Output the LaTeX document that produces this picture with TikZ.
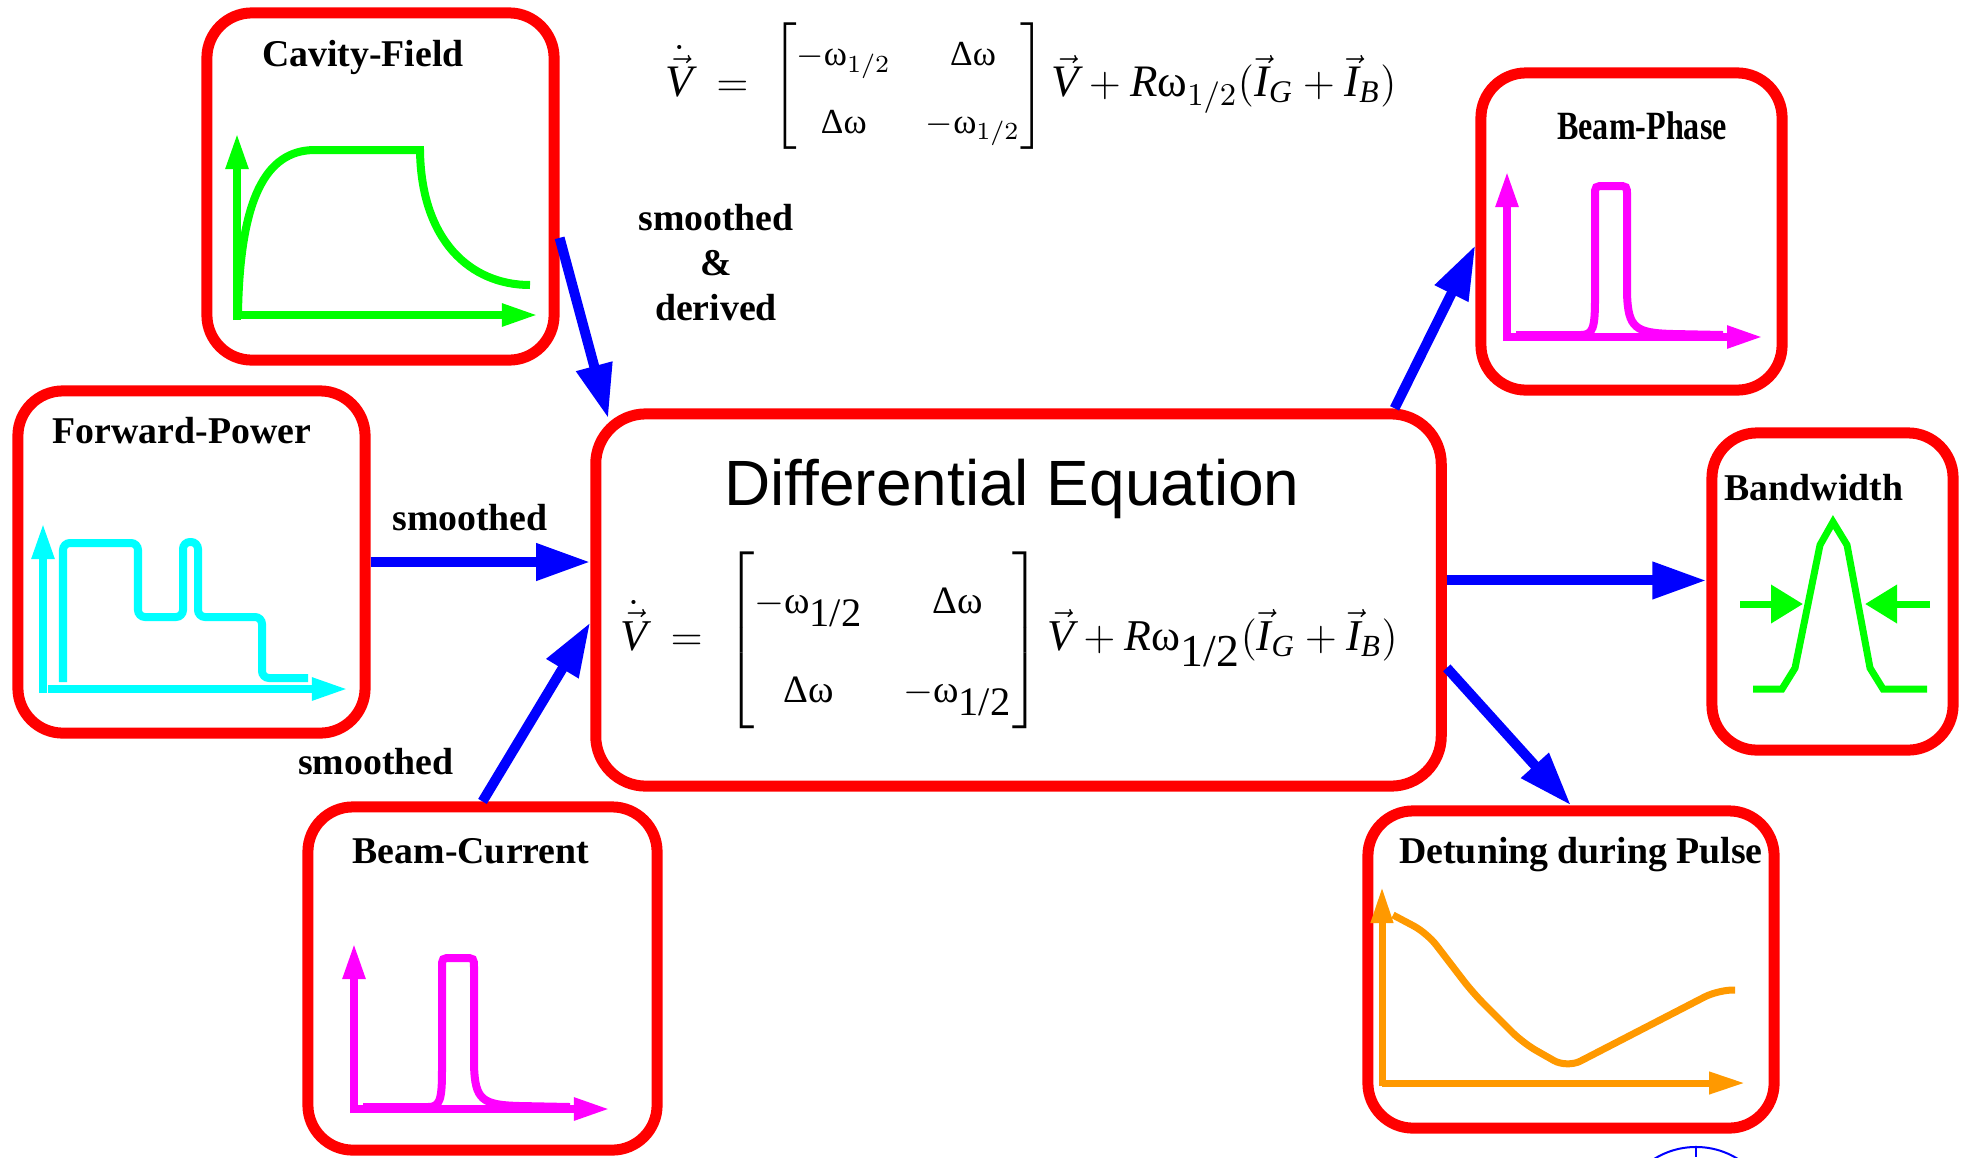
\documentclass[tikz,border=0pt]{standalone}
\usepackage{fontspec}
\usepackage{amsmath}
\usepackage{graphicx}
\setmainfont{Liberation Serif}
\newfontfamily\helv{Liberation Sans}
\usetikzlibrary{arrows.meta,positioning,calc}
\definecolor{boxred}{RGB}{255,0,0}
\definecolor{flowblue}{RGB}{0,0,255}
\definecolor{plotgreen}{RGB}{0,255,0}
\definecolor{plotcyan}{RGB}{0,255,255}
\definecolor{plotmagenta}{RGB}{255,0,255}
\definecolor{plotorange}{RGB}{255,153,0}
\newcommand{\halfsub}[1]{\text{\fontsize{#1}{#1}\selectfont 1/2}}

\begin{document}
\begin{tikzpicture}[x=0.01cm, y=-0.01cm,
    panel/.style={rectangle, draw=boxred, line width=0.11cm, rounded corners=0.45cm, inner sep=0pt},
    paneltitle/.style={anchor=base, inner sep=0pt, font=\fontsize{10.75}{12.8}\selectfont\bfseries},
    arrow/.style={-{Triangle[length=0.54cm, width=0.35cm]}, flowblue, line width=0.1cm},
    plotaxis/.style={-{Triangle[length=0.36cm, width=0.21cm]}, line width=0.08cm},
    curve/.style={line width=0.08cm}
]
\useasboundingbox (0,0) rectangle (1964,1157);

% panels
\node[panel, minimum width=3.47cm, minimum height=3.47cm] (cav) at (380.5,186.5) {};
\node[panel, minimum width=3.47cm, minimum height=3.42cm] (fwd) at (191.5,562) {};
\node[panel, minimum width=3.49cm, minimum height=3.43cm] (bcur) at (482.5,978.5) {};
\node[panel, minimum width=3.01cm, minimum height=3.17cm] (bph) at (1631.5,231.5) {};
\node[panel, minimum width=2.41cm, minimum height=3.17cm] (bw) at (1832.5,591.5) {};
\node[panel, minimum width=4.06cm, minimum height=3.17cm] (det) at (1571,969.5) {};
\node[panel, minimum width=8.45cm, minimum height=3.72cm, rounded corners=0.5cm] (deq) at (1018.5,600) {};

% titles
\node[paneltitle] (tcav) at (363,66) {Cavity-Field};
\node[paneltitle] (tfwd) at (182,443) {Forward-Power};
\node[paneltitle] (tbcur) at (471,863) {Beam-Current};
\node[paneltitle] (tbph) at (1642,139) {\scalebox{0.85}[1.06]{Beam-Phase}};
\node[paneltitle] (tbw) at (1814,500) {Bandwidth};
\node[paneltitle] (tdet) at (1581,863) {Detuning during Pulse};
\node[anchor=base, inner sep=0pt, font=\helv\fontsize{18.2}{20}\selectfont] (tdeq) at (1012,505) {Differential Equation};

% equations
\node[inner sep=0pt, font=\fontsize{12.8}{15}\selectfont] (topeq) at (1031,86)
  {$\dot{\vec{\mathit{V}}}\;=\;\left[\vcenter{\hbox{\fontsize{10}{12}\selectfont\renewcommand\arraystretch{1.6}$\begin{array}{@{}c@{\hspace{0.35cm}}c@{}}-\text{ω}_{1/2} & \text{Δω}\\ \text{Δω} & -\text{ω}_{1/2}\end{array}$}}\right]\vec{\mathit{V}} + \mathit{R}\text{ω}_{1/2}(\vec{\mathit{I}}_{\mathit{G}} + \vec{\mathit{I}}_{\mathit{B}})$};
\node[inner sep=0pt, font=\fontsize{12.5}{15}\selectfont] (boxeq) at (1009,640)
  {$\dot{\vec{\mathit{V}}}\;=\;\left[\vcenter{\hbox{\fontsize{11}{13}\selectfont\renewcommand\arraystretch{1.95}$\begin{array}{@{}c@{\hspace{0.4cm}}c@{}}-\text{ω}_{\halfsub{11.5}} & \text{Δω}\\ \text{Δω} & -\text{ω}_{\halfsub{11.5}}\end{array}$}}\right]\vec{\mathit{V}} + \mathit{R}\text{ω}_{\halfsub{13}}(\vec{\mathit{I}}_{\mathit{G}} + \vec{\mathit{I}}_{\mathit{B}})$};

% labels
\node[paneltitle] (lfwd) at (470,530) {smoothed};
\node[paneltitle] (lbcur) at (376,774) {smoothed};
\node[paneltitle, anchor=north, align=center] (lcav) at (716,204) {smoothed\\\&\\derived};

% connectors
\draw[arrow] (cav.-16) -- ($(deq.north west)+(18,10)$);
\draw[arrow] (fwd.east) -- (fwd.east -| deq.west);
\draw[arrow] (bcur.north) -- (deq.183);
\draw[arrow] (deq.27.7) -- (bph.185);
\draw[arrow] (deq.east |- bw.175) -- (bw.175);
\draw[arrow] (deq.-9.7) -- (det.north);

% cavity field
\draw[plotaxis, plotgreen] (237,320) -- (237,133);
\draw[plotaxis, plotgreen] (237,315) -- (538,315);
\draw[curve, plotgreen] (238,313) .. controls (240,200) and (265,150) .. (315,150) -- (420,150) .. controls (421,240) and (470,285) .. (530,285);

% forward power
\draw[plotaxis, plotcyan] (43,693) -- (43,523);
\draw[plotaxis, plotcyan] (48,689) -- (348,689);
\draw[curve, plotcyan, rounded corners=0.07cm] (63,682) -- (63,543) -- (138,543) -- (138,617) -- (183,617) -- (183,542) -- (198,542) -- (198,617) -- (262,617) -- (262,678) -- (308,678);

% beam current and beam phase
\foreach \dx/\dy in {0/0, 1153/-772} {
  \begin{scope}[shift={(\dx,\dy)}]
    \draw[plotaxis, plotmagenta] (354,1113) -- (354,943);
    \draw[plotaxis, plotmagenta] (354,1109) -- (610,1109);
    \draw[curve, plotmagenta] (363,1107) -- (428,1107) .. controls (440,1107) and (442,1100) .. (442,1070) -- (442,968) .. controls (442,958) .. (452,958) -- (464,958) .. controls (474,958) .. (474,968) -- (474,1065) .. controls (475,1100) and (482,1105) .. (520,1106) -- (570,1107);
  \end{scope}
}

% bandwidth
\draw[curve, plotgreen, line width=0.07cm] (1753,689) -- (1782,689) -- (1795,668) -- (1820,545) -- (1833,522) -- (1847,545) -- (1870,668) -- (1883,689) -- (1927,689);
\draw[-{Triangle[length=0.32cm, width=0.37cm]}, plotgreen, line width=0.07cm] (1740,604) -- (1803,604);
\draw[-{Triangle[length=0.32cm, width=0.37cm]}, plotgreen, line width=0.07cm] (1930,604) -- (1865,604);

% detuning
\draw[plotaxis, plotorange, line width=0.07cm] (1382,1086) -- (1382,887);
\draw[plotaxis, plotorange, line width=0.07cm] (1382,1083) -- (1745,1083);
\draw[curve, plotorange, line width=0.07cm, rounded corners=0.15cm] (1393,915) -- (1427,933) -- (1473,993) -- (1523,1043) -- (1567,1068) -- (1718,990) -- (1735,990);

% logo edge
\draw[flowblue, line width=0.02cm] (1696,1226) circle[radius=0.79cm];
\draw[flowblue, line width=0.02cm] (1696,1148) -- (1696,1157);
\end{tikzpicture}
\end{document}
